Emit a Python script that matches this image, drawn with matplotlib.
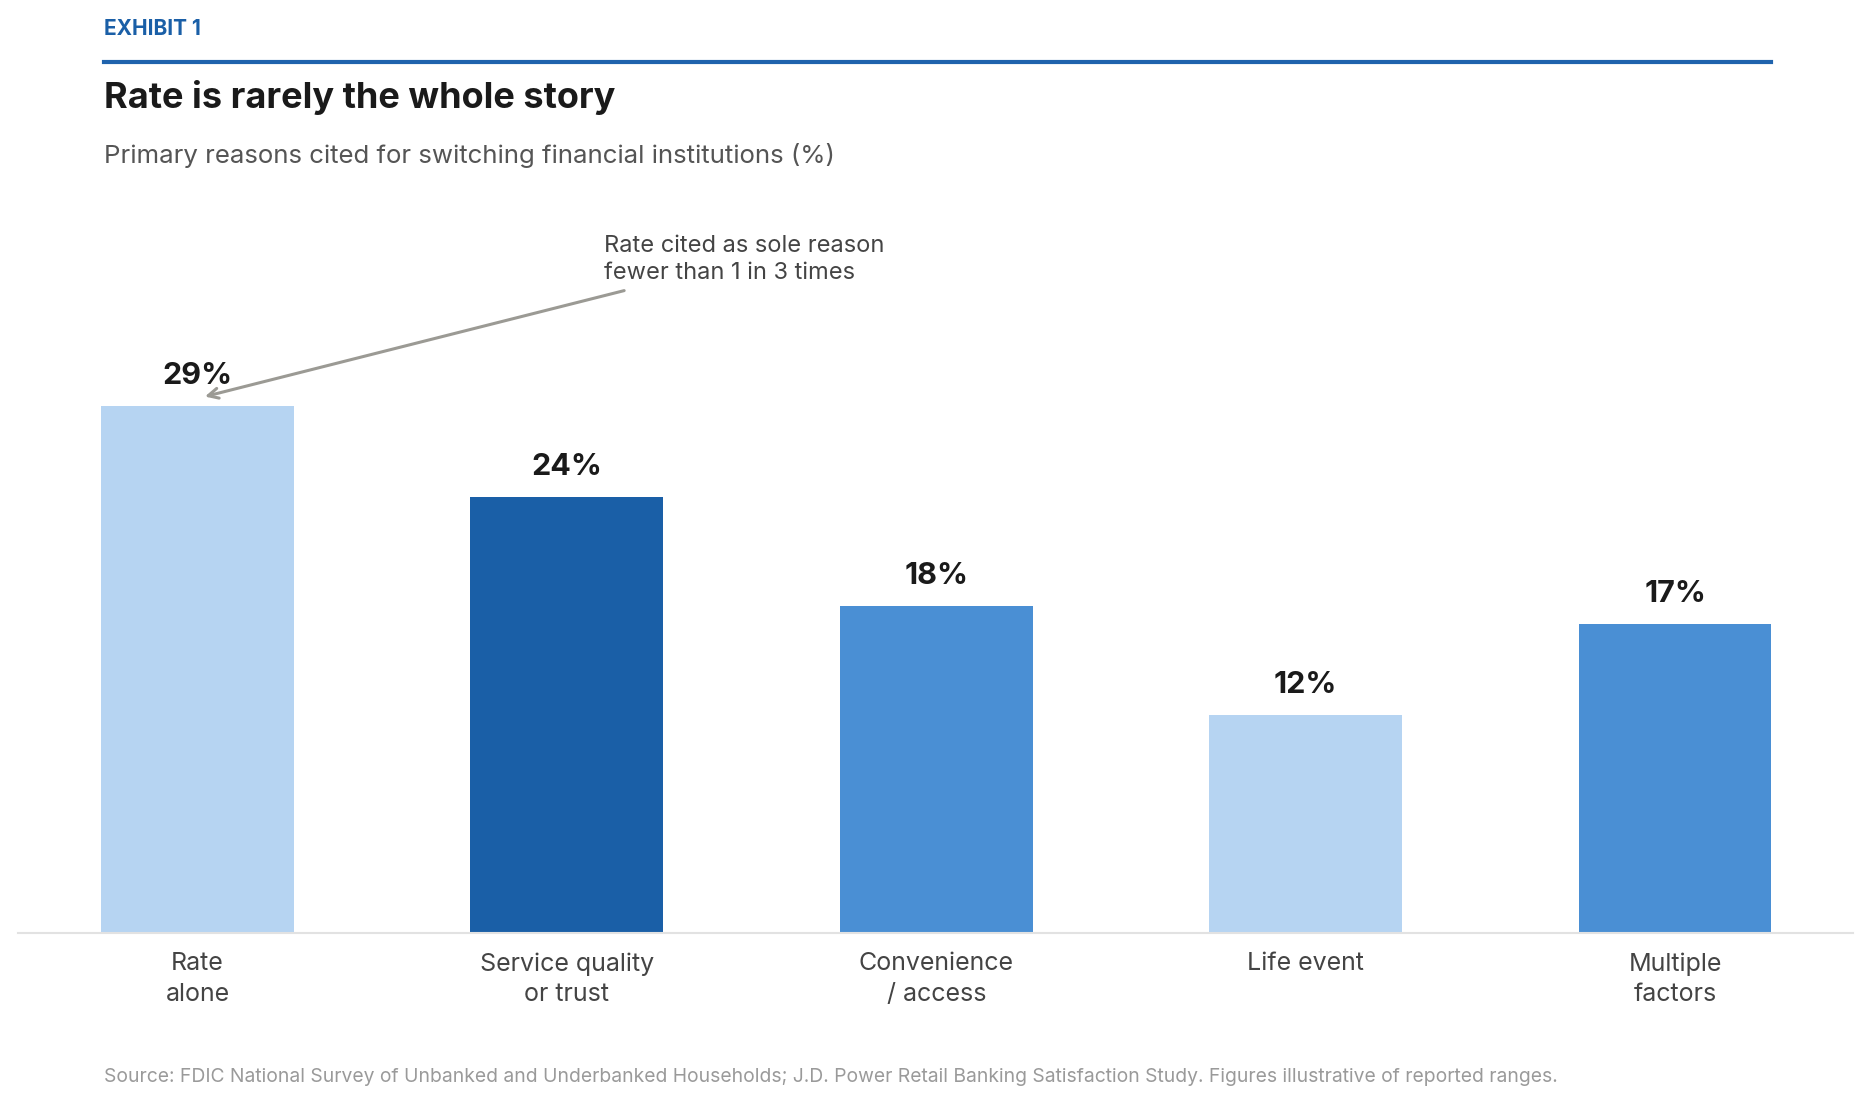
import matplotlib.pyplot as plt

plt.rcParams['font.family'] = ['Inter', 'DejaVu Sans']

categories = ['Rate\nalone', 'Service quality\nor trust', 'Convenience\n/ access',
              'Life event', 'Multiple\nfactors']
shares = [29, 24, 18, 12, 17]
bar_colors = ['#b6d4f2', '#1a5fa7', '#4a8fd4', '#b6d4f2', '#4a8fd4']

fig = plt.figure(figsize=(18.71, 11.04), dpi=100)
ax = fig.add_axes([0.00962, 0.1549, 0.9808, 0.664])

x = range(len(categories))
ax.bar(x, shares, width=0.522, color=bar_colors, zorder=2)

for i, v in enumerate(shares):
    ax.text(i, v + 1.2, f'{v}%', ha='center', va='baseline',
            fontsize=22, fontweight='bold', color='#1a1a1a')

ax.set_xlim(-0.486, 4.482)
ax.set_ylim(0, 40.34)
ax.set_yticks([])
ax.set_xticks(list(x))
ax.set_xticklabels(categories, fontsize=18, color='#444444', linespacing=1.4)
ax.tick_params(axis='x', length=0, pad=14)
for side in ['top', 'right', 'left']:
    ax.spines[side].set_visible(False)
ax.spines['bottom'].set_color('#e2e2e2')
ax.spines['bottom'].set_linewidth(1.5)

# callout
ax.annotate('', xy=(0.02, 29.52), xytext=(1.155, 35.35),
            arrowprops=dict(arrowstyle='->', color='#9b9a94', lw=2.2,
                            mutation_scale=18, shrinkA=0, shrinkB=0))
ax.text(1.10, 36.0, 'Rate cited as sole reason\nfewer than 1 in 3 times',
        ha='left', va='baseline', fontsize=17, color='#444444', linespacing=1.3)

# header
fig.text(0.0555, 0.9683, 'EXHIBIT 1', fontsize=15, fontweight='bold',
         color='#1a5fa7', va='baseline')
fig.add_artist(plt.Line2D([0.0555, 0.9466], [0.9438, 0.9438], color='#1f63ad',
                          lw=3, transform=fig.transFigure))
fig.text(0.0555, 0.9022, 'Rate is rarely the whole story', fontsize=26,
         fontweight='bold', color='#1a1a1a', va='baseline')
fig.text(0.0555, 0.8521, 'Primary reasons cited for switching financial institutions (%)',
         fontsize=18.6, color='#555555', va='baseline')
fig.text(0.0555, 0.0199,
         'Source: FDIC National Survey of Unbanked and Underbanked Households; '
         'J.D. Power Retail Banking Satisfaction Study. Figures illustrative of reported ranges.',
         fontsize=13.9, color='#9a9a9a', va='baseline')

fig.savefig('out.png', dpi=100, facecolor='white')
